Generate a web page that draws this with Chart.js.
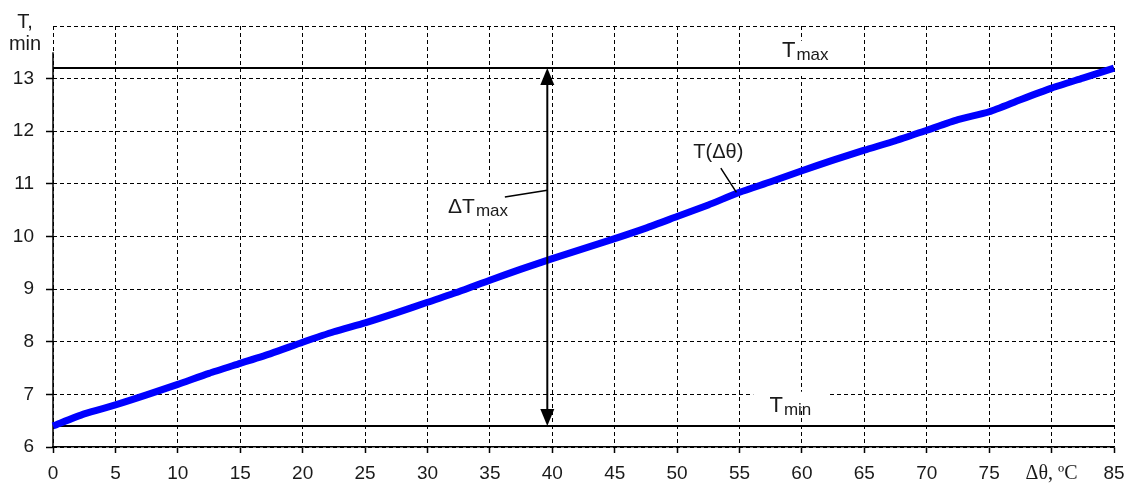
<!DOCTYPE html>
<html><head><meta charset="utf-8">
<script src="https://cdn.jsdelivr.net/npm/chart.js@4/dist/chart.umd.min.js"></script>
<style>html,body{margin:0;padding:0;background:#fff}#wrap{width:1135px;height:488px;position:relative}canvas{display:block}</style>
</head><body><div id="wrap"><canvas id="c" width="1135" height="488"></canvas></div>
<script>
// ---- data ----
const dTheta = [0,2.5,5,7.5,10,12.5,15,17.5,20,22.5,25,27.5,30,32.5,35,37.5,40,42.5,45,47.5,50,52.5,55,57.5,60,62.5,65,67.5,70,72.5,75,77.5,80,82.5,85];
const tValues = [6.40,6.63,6.80,6.99,7.19,7.40,7.59,7.78,7.99,8.19,8.36,8.55,8.75,8.95,9.17,9.38,9.58,9.77,9.96,10.16,10.38,10.60,10.84,11.04,11.25,11.45,11.64,11.82,12.02,12.22,12.37,12.60,12.82,13.01,13.20];
const tMax = 13.2;
const tMin = 6.4;
const arrowAt = 39.6;
const xTickLabels = {80: 'Δθ, ºC'};
const yTitle = ['T,', 'min'];

const SANS = 'Liberation Sans, Arial, sans-serif';
const SERIF = 'Liberation Serif, Times New Roman, serif';

function drawSubLabel(ctx, main, sub, x, y, mainSize, subSize, subDrop) {
  ctx.font = mainSize + 'px ' + SANS;
  const w1 = ctx.measureText(main).width;
  ctx.fillText(main, x, y);
  ctx.font = subSize + 'px ' + SANS;
  const w2 = ctx.measureText(sub).width;
  ctx.fillText(sub, x + w1 + 1, y + subDrop);
  return w1 + 1 + w2;
}

const annot = {
  id: 'annot',
  beforeDatasetsDraw(chart) {
    const ctx = chart.ctx, xs = chart.scales.x, ys = chart.scales.y;
    const px = v => xs.getPixelForValue(v), py = v => ys.getPixelForValue(v);
    ctx.save();
    ctx.fillStyle = '#fff';
    const boxes = [
      [57.9, 62.5, 13.05, 13.72],
      [56.1, 62.25, 6.75, 7.05],
      [31.4, 37.1, 10.25, 10.95],
      [51.0, 56.7, 11.25, 11.95]
    ];
    boxes.forEach(b => {
      const x0 = px(b[0]), x1 = px(b[1]), y0 = py(b[3]), y1 = py(b[2]);
      ctx.fillRect(x0, y0, x1 - x0, y1 - y0);
    });
    ctx.strokeStyle = '#000';
    ctx.lineWidth = 1.5;
    ctx.beginPath();
    ctx.moveTo(px(0), py(13.5));
    ctx.lineTo(px(0), py(6) + 0.5);
    ctx.stroke();
    ctx.restore();
  },
  afterDatasetsDraw(chart) {
    const ctx = chart.ctx, xs = chart.scales.x, ys = chart.scales.y;
    const px = v => xs.getPixelForValue(v), py = v => ys.getPixelForValue(v);
    ctx.save();
    const ax = px(arrowAt), yt = py(tMax), yb = py(tMin);
    const hh = 17, hw = 7;
    ctx.strokeStyle = '#000';
    ctx.fillStyle = '#000';
    ctx.lineWidth = 2;
    ctx.beginPath();
    ctx.moveTo(ax, yt + hh - 2);
    ctx.lineTo(ax, yb - hh + 2);
    ctx.stroke();
    ctx.beginPath();
    ctx.moveTo(ax, yt); ctx.lineTo(ax - hw, yt + hh); ctx.lineTo(ax + hw, yt + hh); ctx.closePath(); ctx.fill();
    ctx.beginPath();
    ctx.moveTo(ax, yb); ctx.lineTo(ax - hw, yb - hh); ctx.lineTo(ax + hw, yb - hh); ctx.closePath(); ctx.fill();
    ctx.lineWidth = 1.5;
    ctx.beginPath();
    ctx.moveTo(px(36.2), py(10.75)); ctx.lineTo(ax, py(10.88));
    ctx.moveTo(px(53.5), py(11.30)); ctx.lineTo(px(54.75), py(10.84));
    ctx.stroke();
    ctx.fillStyle = '#1a1a1a';
    ctx.textBaseline = 'alphabetic';
    ctx.textAlign = 'left';
    drawSubLabel(ctx, 'T', 'max', px(58.4), py(13.41), 22, 17, 3);
    drawSubLabel(ctx, 'T', 'min', px(57.4), py(6.665), 22, 17, 3);
    drawSubLabel(ctx, 'ΔT', 'max', px(31.65), py(10.45), 21, 17, 3);
    ctx.font = '20px ' + SANS;
    ctx.fillText('T(Δθ)', px(51.3), py(11.49));
    ctx.textAlign = 'center';
    ctx.font = '20px ' + SANS;
    ctx.fillText(yTitle[0], chart.chartArea.left - 28, 28);
    ctx.fillText(yTitle[1], chart.chartArea.left - 28, 50);
    ctx.restore();
  }
};

new Chart(document.getElementById('c'), {
  type: 'line',
  data: {
    datasets: [
      { label: 'T(Δθ)', data: dTheta.map((x, i) => ({x, y: tValues[i]})), borderColor: '#0000ff', borderWidth: 7, pointRadius: 0, tension: 0.2, clip: false },
      { label: 'Tmax', data: [{x: 0, y: tMax}, {x: 85, y: tMax}], borderColor: '#000', borderWidth: 2, pointRadius: 0 },
      { label: 'Tmin', data: [{x: 0, y: tMin}, {x: 85, y: tMin}], borderColor: '#000', borderWidth: 2, pointRadius: 0 }
    ]
  },
  options: {
    responsive: false,
    animation: false,
    devicePixelRatio: 1,
    layout: { padding: { top: 26, right: 21, left: 0, bottom: 0 } },
    plugins: { legend: { display: false }, tooltip: { enabled: false } },
    scales: {
      x: {
        type: 'linear', min: 0, max: 85,
        afterFit: s => { s.height = 41; },
        ticks: {
          stepSize: 5, padding: 9, color: '#1a1a1a', maxRotation: 0, autoSkip: false,
          callback: v => (xTickLabels[v] !== undefined ? xTickLabels[v] : v),
          font: c => (c.tick && xTickLabels[c.tick.value] !== undefined) ? {family: SERIF, size: 20} : {family: SANS, size: 19}
        },
        grid: { color: '#000', lineWidth: 1, tickLength: 6, tickColor: '#000', tickBorderDash: [], tickWidth: 1.5 },
        border: { display: true, color: '#000', width: 1.5, dash: [4, 3] }
      },
      y: {
        type: 'linear', min: 6, max: 14,
        afterFit: s => { s.width = 53; },
        ticks: {
          stepSize: 1, padding: 12, color: '#1a1a1a',
          callback: v => (v === 14 ? '' : v),
          font: {family: SANS, size: 19}
        },
        grid: { color: '#000', lineWidth: 1, tickLength: 7, tickBorderDash: [], tickWidth: 1.5,
          tickColor: c => (c.tick && c.tick.value === 14) ? 'rgba(0,0,0,0)' : '#000' },
        border: { display: false, dash: [4, 3] }
      }
    }
  },
  plugins: [annot]
});
</script>
</body></html>
